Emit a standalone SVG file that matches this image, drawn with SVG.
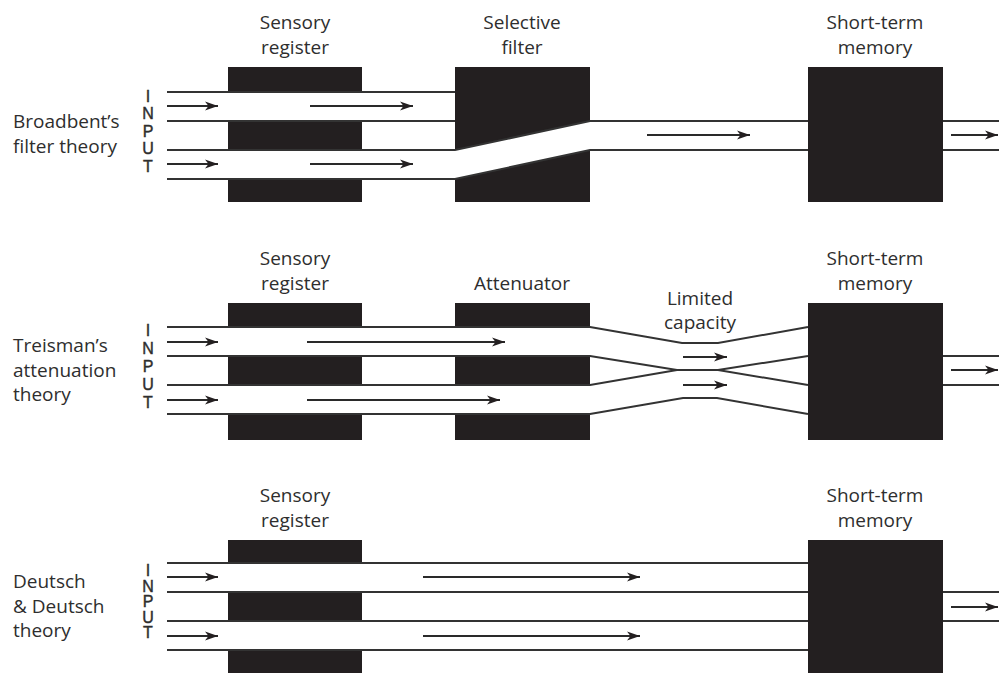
<svg xmlns="http://www.w3.org/2000/svg" width="999" height="673" viewBox="0 0 999 673">
<defs>
<style>
.box{fill:#231f20}
.band{fill:#ffffff}
.ln{fill:none;stroke:#333333;stroke-width:2}
.ar{fill:none;stroke:#2a2a2a;stroke-width:2;marker-end:url(#ah)}
.t{font-family:"Open Sans","Liberation Sans",sans-serif;font-size:19px;fill:#2e2e2e}
.c{text-anchor:middle}
.inp{font-family:"Liberation Sans",Arial,sans-serif;font-size:16px;fill:#2e2e2e;stroke:#2e2e2e;stroke-width:0.4;writing-mode:vertical-rl;text-orientation:upright}
</style>
<marker id="ah" markerWidth="14" markerHeight="10" refX="13" refY="5" orient="auto" markerUnits="userSpaceOnUse">
<path d="M0,0.5 L13,5 L0,9.5 L3.5,5 Z" fill="#231f20"/>
</marker>
</defs>
<rect width="999" height="673" fill="#ffffff"/>

<!-- Panel 1: Broadbent -->
<g id="p1-label">
<text class="t" x="13" y="128">Broadbent’s</text>
<text class="t" x="13" y="153">filter theory</text>
</g>
<g id="p1-input">
<text class="inp" x="148" y="88" letter-spacing="0.4">INPUT</text>
</g>
<g id="p1-sensory-register">
<rect class="box" x="228" y="67" width="134" height="135"/>
<text class="t c" x="295" y="29">Sensory</text>
<text class="t c" x="295" y="54">register</text>
</g>
<g id="p1-selective-filter">
<rect class="box" x="455" y="67" width="135" height="135"/>
<text class="t c" x="522" y="29">Selective</text>
<text class="t c" x="522" y="54">filter</text>
</g>
<g id="p1-short-term-memory">
<rect class="box" x="808" y="67" width="135" height="135"/>
<text class="t c" x="875" y="29">Short-term</text>
<text class="t c" x="875" y="54">memory</text>
</g>

<!-- Panel 2: Treisman -->
<g id="p2-label">
<text class="t" x="13" y="352">Treisman’s</text>
<text class="t" x="13" y="377">attenuation</text>
<text class="t" x="13" y="401">theory</text>
</g>
<g id="p2-input">
<text class="inp" x="148" y="322" letter-spacing="1.0">INPUT</text>
</g>
<g id="p2-sensory-register">
<rect class="box" x="228" y="303" width="134" height="137"/>
<text class="t c" x="295" y="265">Sensory</text>
<text class="t c" x="295" y="290">register</text>
</g>
<g id="p2-attenuator">
<rect class="box" x="455" y="303" width="135" height="137"/>
<text class="t c" x="522" y="290">Attenuator</text>
</g>
<g id="p2-limited-capacity">
<text class="t c" x="700" y="305">Limited</text>
<text class="t c" x="700" y="329">capacity</text>
</g>
<g id="p2-short-term-memory">
<rect class="box" x="808" y="303" width="135" height="137"/>
<text class="t c" x="875" y="265">Short-term</text>
<text class="t c" x="875" y="290">memory</text>
</g>

<!-- Panel 3: Deutsch & Deutsch -->
<g id="p3-label">
<text class="t" x="13" y="588">Deutsch</text>
<text class="t" x="13" y="613">&amp; Deutsch</text>
<text class="t" x="13" y="637">theory</text>
</g>
<g id="p3-input">
<text class="inp" x="148" y="562" letter-spacing="-1.5">INPUT</text>
</g>
<g id="p3-sensory-register">
<rect class="box" x="228" y="540" width="134" height="140"/>
<text class="t c" x="295" y="502">Sensory</text>
<text class="t c" x="295" y="527">register</text>
</g>
<g id="p3-short-term-memory">
<rect class="box" x="808" y="540" width="135" height="140"/>
<text class="t c" x="875" y="502">Short-term</text>
<text class="t c" x="875" y="527">memory</text>
</g>

<g id="connectors">
<!-- channel bands through boxes -->
<rect class="band" x="227" y="92" width="136" height="29"/>
<rect class="band" x="227" y="150" width="136" height="29"/>
<polygon class="band" points="454,150 591,121 591,150 454,179"/>
<rect class="band" x="227" y="327" width="136" height="29"/>
<rect class="band" x="227" y="385" width="136" height="29"/>
<rect class="band" x="454" y="327" width="137" height="29"/>
<rect class="band" x="454" y="385" width="137" height="29"/>
<rect class="band" x="227" y="563" width="136" height="29"/>
<rect class="band" x="227" y="621" width="136" height="29"/>

<!-- panel 1 lines -->
<path class="ln" d="M167,92 H455"/>
<path class="ln" d="M167,121 H455"/>
<path class="ln" d="M167,150 H455 L590,121 H808"/>
<path class="ln" d="M167,179 H455 L590,150 H808"/>
<path class="ln" d="M943,121 H999"/>
<path class="ln" d="M943,150 H999"/>
<path class="ar" d="M167,106 H218"/>
<path class="ar" d="M310,106 H413"/>
<path class="ar" d="M167,164 H218"/>
<path class="ar" d="M310,164 H413"/>
<path class="ar" d="M647,135 H750"/>
<path class="ar" d="M951,135 H998"/>

<!-- panel 2 lines -->
<path class="ln" d="M167,327 H590 L682,343 H718 L808,327"/>
<path class="ln" d="M167,356 H590 L677,370 H718 L808,385"/>
<path class="ln" d="M167,385 H590 L677,370"/>
<path class="ln" d="M718,370 L808,356"/>
<path class="ln" d="M167,414 H590 L683,398 H717 L808,414"/>
<path class="ln" d="M943,356 H999"/>
<path class="ln" d="M943,385 H999"/>
<path class="ar" d="M167,342 H218"/>
<path class="ar" d="M307,342 H505"/>
<path class="ar" d="M167,400 H218"/>
<path class="ar" d="M307,400 H500"/>
<path class="ar" d="M683,357 H727"/>
<path class="ar" d="M683,385 H727"/>
<path class="ar" d="M951,370 H998"/>

<!-- panel 3 lines -->
<path class="ln" d="M167,563 H808"/>
<path class="ln" d="M167,592 H808"/>
<path class="ln" d="M167,621 H808"/>
<path class="ln" d="M167,650 H808"/>
<path class="ln" d="M943,592 H999"/>
<path class="ln" d="M943,621 H999"/>
<path class="ar" d="M167,577 H218"/>
<path class="ar" d="M423,577 H640"/>
<path class="ar" d="M167,636 H218"/>
<path class="ar" d="M423,636 H640"/>
<path class="ar" d="M951,607 H998"/>
</g>
</svg>
